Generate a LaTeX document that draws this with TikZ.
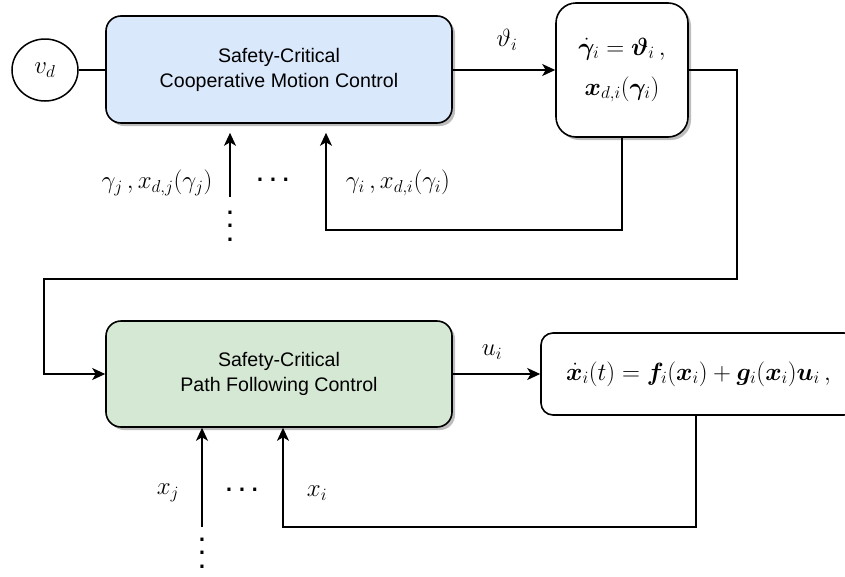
\documentclass[tikz,border=0pt]{standalone}
\usepackage{amsmath}
\usepackage{bm}
\usepackage{fontspec}
\setmainfont{Liberation Sans}
\usetikzlibrary{arrows.meta,shadows,calc,shapes.geometric}

\definecolor{bluefill}{HTML}{DAE8FC}
\definecolor{greenfill}{HTML}{D5E8D4}
\definecolor{shadowgray}{HTML}{BDBDBD}

\newcommand{\hdotsrow}{.\hspace{4pt}.\hspace{4pt}.}

\tikzset{
  wire/.style={line width=1.5pt, draw=black},
  arr/.style={wire, -{Stealth[length=13pt,width=12pt,inset=3.5pt]}},
  ctrlbox/.style={draw=black, line width=1.6pt, rectangle, rounded corners=15pt,
    align=center, font=\fontsize{19.6}{25}\selectfont,
    drop shadow={shadow xshift=3pt, shadow yshift=-3pt, fill=shadowgray, opacity=1}},
  mathbox/.style={draw=black, line width=1.6pt, rectangle, fill=white, align=center},
  lbl/.style={font=\fontsize{25}{30}\selectfont, inner sep=0pt},
  dotsnode/.style={align=center, inner sep=0pt, font=\fontsize{32}{13.5}\selectfont},
}

\begin{document}
\begin{tikzpicture}[x=1pt,y=-1pt]
\useasboundingbox (0,0) rectangle (845,576);

% desired speed input
\node[draw=black, line width=1.5pt, ellipse, minimum width=66pt, minimum height=62pt,
      inner sep=0pt, font=\fontsize{25}{30}\selectfont] (vd) at (45,70) {$v_d$};

% upper loop: cooperative motion control and path parameter update
\node[ctrlbox, fill=bluefill, minimum width=346pt, minimum height=107pt] (coop) at (279,69.5)
  {Safety-Critical\\Cooperative Motion Control};
\node[mathbox, rounded corners=20pt, minimum width=132pt, minimum height=134pt,
      font=\fontsize{25}{40}\selectfont,
      drop shadow={shadow xshift=3pt, shadow yshift=-3pt, fill=shadowgray, opacity=1}]
  (gam) at (622,70)
  {$\dot{\bm{\gamma}}_i=\bm{\vartheta}_i\,,$\\$\bm{x}_{d,i}(\bm{\gamma}_i)$};

% lower loop: path following control and vehicle dynamics
\node[ctrlbox, fill=greenfill, minimum width=346pt, minimum height=106pt] (pf) at (279,374)
  {Safety-Critical\\Path Following Control};
\node[mathbox, rounded corners=12pt, minimum width=315pt, minimum height=82pt,
      font=\fontsize{25}{30}\selectfont] (dyn) at (698.5,374)
  {$\dot{\bm{x}}_i(t)=\bm{f}_i(\bm{x}_i)+\bm{g}_i(\bm{x}_i)\bm{u}_i\,,$};

% routing points
\coordinate (r1) at (737,279);
\coordinate (l1) at (44,279);
\coordinate (fb1) at (326,230);
\coordinate (in1) at (230,197);
\coordinate (fb2) at (283,527);
\coordinate (in2) at (202,527);
\coordinate (dynout) at (696,415);

% connectors
\draw[wire] (vd) -- (coop.west |- vd);
\draw[arr] (coop.east |- gam.west) -- (gam.west);
\draw[arr] (gam.east) -| (r1) -- (l1) |- (pf.west);
\draw[arr] (gam.south) |- (fb1) -- ($(fb1 |- coop.south)+(0,9)$);
\draw[arr] (in1) -- ($(in1 |- coop.south)+(0,9)$);
\draw[arr] (pf.east) -- (dyn.west |- pf.east);
\draw[arr] (dynout) |- (fb2) -- (fb2 |- pf.south);
\draw[arr] (in2) -- (in2 |- pf.south);

% signal labels
\node[lbl] (theta) at (507,40) {$\vartheta_i$};
\node[lbl] (lgj) at (157,183) {$\gamma_j\,,x_{d,j}(\gamma_j)$};
\node[dotsnode] (hd1) at (273,180) {\hdotsrow};
\node[lbl] (lgi) at (398,183) {$\gamma_i\,,x_{d,i}(\gamma_i)$};
\node[dotsnode] (vd1) at (230,226) {.\\.\\.};
\node[lbl] (lu) at (492,352) {$u_i$};
\node[lbl] (lxj) at (168,493) {$x_j$};
\node[dotsnode] (hd2) at (242,490) {\hdotsrow};
\node[lbl] (lxi) at (317,493) {$x_i$};
\node[dotsnode] (vd2) at (202,553) {.\\.\\.};
\end{tikzpicture}
\end{document}
